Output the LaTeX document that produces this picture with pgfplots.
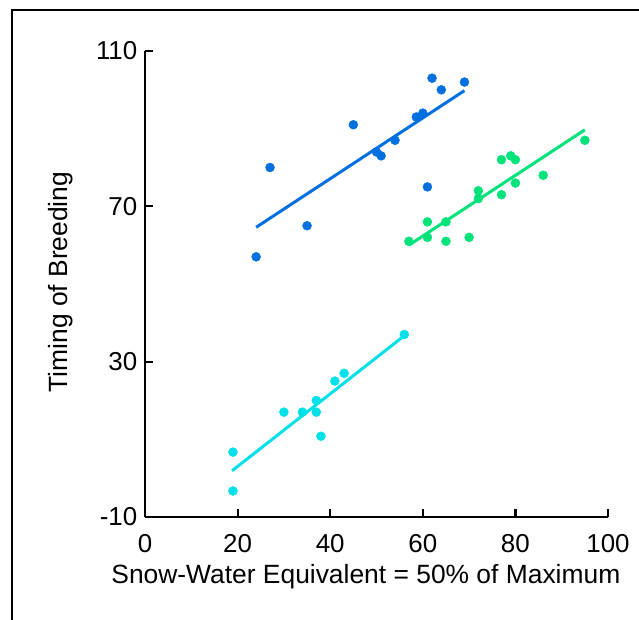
\documentclass[border=0pt]{standalone}
\usepackage{fontspec}
\setmainfont{Liberation Sans}
\usepackage{pgfplots}
\pgfplotsset{compat=1.18}
\usepackage{pgfplotstable}

\definecolor{sweblue}{RGB}{0,112,224}
\definecolor{swegreen}{RGB}{0,226,122}
\definecolor{swecyan}{RGB}{0,224,232}

% early sites (blue)
\pgfplotstableread{
x y
24 57
27 80
35 65
45 91
50 84
51 83
54 87
58.6 93
60 94
61 75
62 103
64 100
69 102
}\bluepts
% late sites (green)
\pgfplotstableread{
x y
57 61
61 66
61 62
65 66
65 61
70 62
72 74
72 72
77 82
77 73
79 83
80 82
80 76
86 78
95 87
}\greenpts
% low sites (cyan)
\pgfplotstableread{
x y
19 6.7
19 -3.3
30 17
34 17
37 20
37 17
38 10.8
41 25
43 27
56 37
}\cyanpts

\begin{document}
\begin{tikzpicture}
\useasboundingbox (0,0) rectangle (639bp,620bp);
\draw[line width=2.4bp] (12bp,0) -- (12bp,610bp) -- (639bp,610bp);
\begin{axis}[
  at={(145bp,103bp)}, anchor=south west,
  scale only axis,
  width=463bp, height=466bp,
  xmin=0, xmax=100, ymin=-10, ymax=110,
  axis lines=left,
  axis line style={-, line width=2.2bp},
  every tick/.style={black, line width=2.2bp},
  tick align=inside,
  major tick length=8bp,
  xtick={0,20,...,100},
  ytick={-10,30,70,110},
  /pgf/number format/assume math mode=true,
  tick label style={font=\fontsize{26}{31}\selectfont},
  yticklabel style={inner sep=7.5bp},
  xticklabel style={anchor=base, yshift=-36bp},
  label style={font=\fontsize{26.5}{31}\selectfont},
  xlabel={Snow-Water Equivalent = 50\% of Maximum},
  ylabel={Timing of Breeding},
  xlabel style={at={(axis description cs:0.477,-0.143)}, anchor=base},
  ylabel style={at={(axis description cs:-0.182,0.504)}, anchor=center},
  clip=false,
]
\addplot[only marks, mark=*, mark size=4.5bp, sweblue, mark options={draw=sweblue, fill=sweblue}] table {\bluepts};
\addplot[only marks, mark=*, mark size=4.5bp, swegreen, mark options={draw=swegreen, fill=swegreen}] table {\greenpts};
\addplot[only marks, mark=*, mark size=4.5bp, swecyan, mark options={draw=swecyan, fill=swecyan}] table {\cyanpts};
\addplot[sweblue, line width=3bp] coordinates {(24,64.6) (69,99.8)};
\addplot[swegreen, line width=3bp] coordinates {(57,60) (95,89.7)};
\addplot[swecyan, line width=3bp] coordinates {(18.8,1.9) (55.6,36.3)};
\end{axis}
\end{tikzpicture}
\end{document}
